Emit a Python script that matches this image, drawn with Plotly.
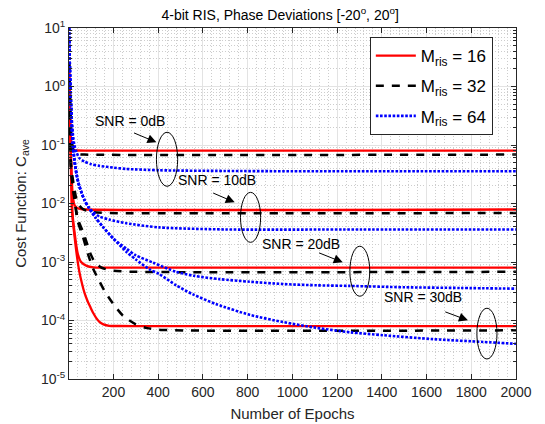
import plotly.graph_objects as go

# ---- data: average cost vs. training epoch -------------------------------
snr_labels = ["SNR = 0dB", "SNR = 10dB", "SNR = 20dB", "SNR = 30dB"]
legend_names = ["M<sub>ris</sub> = 16", "M<sub>ris</sub> = 32", "M<sub>ris</sub> = 64"]

# M_ris = 16
ep_r0 = [1, 3, 5, 8, 12, 18, 25, 40, 80, 2000]
c_r0 = [1.9, 0.8, 0.38, 0.17, 0.105, 0.086, 0.082, 0.0805, 0.08, 0.08]
ep_r10 = [1, 3, 5, 8, 12, 17, 25, 35, 50, 80, 2000]
c_r10 = [1.9, 0.75, 0.3, 0.1, 0.035, 0.015, 0.0095, 0.0085, 0.0081, 0.0079, 0.0079]
ep_r20 = [1, 3, 5, 8, 12, 17, 25, 40, 55, 80, 110, 160, 2000]
c_r20 = [1.9, 0.75, 0.3, 0.1, 0.03, 0.0065, 0.0034, 0.0014, 0.001, 0.00086, 0.00081, 0.0008, 0.0008]
ep_r30 = [1, 3, 5, 8, 14, 25, 36, 47, 59, 70, 83, 97, 110, 124, 137, 155, 181, 227, 300, 2000]
c_r30 = [1.9, 0.75, 0.3, 0.1, 0.0077, 0.0029, 0.0013, 0.00069, 0.00043, 0.0003, 0.00022,
         0.000168, 0.000133, 0.000109, 0.000095, 0.000086, 0.000081, 0.0000805, 0.00008, 0.00008]

# M_ris = 32
ep_k0 = [1, 3, 5, 8, 12, 18, 25, 40, 70, 2000]
c_k0 = [2.5, 1.3, 0.7, 0.3, 0.14, 0.09, 0.075, 0.07, 0.0686, 0.0686]
ep_k10 = [1, 3, 5, 7, 10, 17, 25, 33, 45, 60, 80, 110, 160, 2000]
c_k10 = [2.5, 1.3, 0.6, 0.2, 0.045, 0.028, 0.018, 0.0125, 0.0095, 0.0082, 0.0075, 0.0071, 0.0069, 0.0069]
ep_k20 = [1, 3, 5, 7, 10, 17, 25, 40, 62, 85, 100, 120, 150, 200, 300, 2000]
c_k20 = [2.5, 1.3, 0.6, 0.2, 0.04, 0.022, 0.013, 0.0055, 0.0034, 0.0019, 0.0013, 0.00095,
         0.00079, 0.00071, 0.00068, 0.00068]
ep_k30 = [1, 3, 5, 7, 10, 17, 25, 40, 62, 85, 110, 137, 160, 200, 245, 300, 350, 420, 2000]
c_k30 = [2.5, 1.3, 0.6, 0.2, 0.04, 0.021, 0.012, 0.005, 0.0028, 0.0014, 0.00075, 0.00047,
         0.00032, 0.00019, 0.000118, 0.000086, 0.000074, 0.000069, 0.000068]

# M_ris = 64
ep_b0 = [1, 3, 5, 8, 12, 18, 25, 35, 47, 70, 100, 137, 200, 257, 405, 700, 1000, 2000]
c_b0 = [10, 4.5, 2, 0.8, 0.35, 0.16, 0.1, 0.075, 0.06, 0.052, 0.047, 0.044, 0.041, 0.039,
        0.037, 0.036, 0.0356, 0.0355]
ep_b10 = [1, 3, 5, 8, 12, 17, 25, 40, 55, 70, 90, 107, 137, 182, 257, 405, 700, 1300, 2000]
c_b10 = [10, 4.5, 2, 0.8, 0.3, 0.11, 0.058, 0.025, 0.016, 0.0115, 0.0085, 0.0072, 0.006,
         0.0053, 0.0046, 0.0039, 0.0036, 0.0036, 0.0036]
ep_b20 = [1, 3, 5, 8, 12, 17, 25, 35, 47, 70, 92, 120, 152, 200, 257, 300, 376, 480, 560,
          674, 809, 958, 1107, 1257, 1500, 1750, 2000]
c_b20 = [10, 4.5, 2, 0.8, 0.3, 0.11, 0.055, 0.031, 0.02, 0.0115, 0.0082, 0.0057, 0.004,
         0.0025, 0.0017, 0.0013, 0.00098, 0.00068, 0.00058, 0.00051, 0.00046, 0.00042,
         0.0004, 0.00039, 0.00037, 0.00036, 0.00035]
ep_b30 = [1, 3, 5, 8, 12, 17, 25, 35, 47, 70, 92, 120, 152, 200, 257, 300, 361, 405, 480,
          555, 660, 809, 958, 1107, 1257, 1406, 1630, 1853, 2000]
c_b30 = [10, 4.5, 2, 0.8, 0.3, 0.11, 0.055, 0.031, 0.02, 0.0115, 0.0082, 0.0057, 0.004,
         0.0025, 0.0015, 0.0011, 0.00075, 0.00062, 0.0004, 0.00028, 0.00019, 0.000125,
         0.000094, 0.000075, 0.000063, 0.000056, 0.000048, 0.000043, 0.00004]

x_ticks = [200, 400, 600, 800, 1000, 1200, 1400, 1600, 1800, 2000]
y_exponents = [-5, -4, -3, -2, -1, 0, 1]

# annotation anchors (epoch, log10 cost)
label_pos = [(274, -0.59), (663, -1.603), (1037, -2.697), (1583, -3.603)]
arrow_tail = [(285, -0.783), (639, -1.81), (1113, -2.834), (1677, -3.843)]
arrow_head = [(392, -0.954), (742, -1.98), (1225, -3.006), (1785, -3.997)]
ellipse_box = [(392, 487, 0.165, 0.0197), (768, 858, 0.0155, 0.00217),
               (1257, 1346, 0.00186, 0.00026), (1825, 1915, 0.000162, 0.000022)]

# ---- styling ---------------------------------------------------------------
FONT = "Liberation Sans, Arial, sans-serif"
AXC = "#262626"
styles = [
    dict(color="#ff0000", width=2.3, dash="solid"),
    dict(color="#000000", width=2.5, dash="8px,8px"),
    dict(color="#0000ff", width=2.6, dash="2.6px,1.6px"),
]
groups = [
    [(ep_r0, c_r0), (ep_r10, c_r10), (ep_r20, c_r20), (ep_r30, c_r30)],
    [(ep_k0, c_k0), (ep_k10, c_k10), (ep_k20, c_k20), (ep_k30, c_k30)],
    [(ep_b0, c_b0), (ep_b10, c_b10), (ep_b20, c_b20), (ep_b30, c_b30)],
]

fig = go.Figure()
for gi, series in enumerate(groups):
    for si, (ep, cost) in enumerate(series):
        fig.add_trace(go.Scatter(
            x=ep, y=cost, mode="lines",
            line=dict(shape="spline", smoothing=0.7, **styles[gi]),
            name=legend_names[gi], legendgroup=str(gi), showlegend=(si == 0),
        ))

annotations = []
shapes = []
for i, txt in enumerate(snr_labels):
    annotations.append(dict(x=label_pos[i][0], y=label_pos[i][1], xref="x", yref="y",
                            text=txt, showarrow=False,
                            font=dict(family=FONT, size=14, color="#000000")))
    annotations.append(dict(x=arrow_head[i][0], y=arrow_head[i][1], xref="x", yref="y",
                            ax=arrow_tail[i][0], ay=arrow_tail[i][1], axref="x", ayref="y",
                            text="", showarrow=True, arrowhead=2, arrowsize=1.8,
                            arrowwidth=1, arrowcolor="#000000"))
    x0, x1, y0, y1 = ellipse_box[i]
    shapes.append(dict(type="circle", xref="x", yref="y", x0=x0, x1=x1, y0=y0, y1=y1,
                       line=dict(color="#000000", width=1)))

y_minor = [m * 10.0 ** e for e in y_exponents[:-1] for m in range(2, 10)]

fig.update_layout(
    width=545, height=424,
    margin=dict(l=69, r=29, t=28, b=45, autoexpand=False),
    paper_bgcolor="white", plot_bgcolor="white",
    font=dict(family=FONT, size=14, color=AXC),
    title=dict(text="4-bit RIS, Phase Deviations [-20<sup>o</sup>, 20<sup>o</sup>]",
               x=0.514, xanchor="center", y=0.965, yanchor="middle",
               font=dict(family=FONT, size=14, color="#000000")),
    showlegend=True,
    legend=dict(x=0.673, y=0.974, xanchor="left", yanchor="top",
                bgcolor="white", bordercolor=AXC, borderwidth=1,
                font=dict(family=FONT, size=17, color="#000000"),
                tracegroupgap=5, itemwidth=40, traceorder="grouped"),
    annotations=annotations,
    shapes=shapes,
    xaxis=dict(
        range=[1, 2000], tickvals=x_ticks, ticktext=[str(v) for v in x_ticks],
        automargin=False,
        showline=True, linecolor=AXC, linewidth=1, mirror="allticks",
        ticks="inside", ticklen=5, tickcolor=AXC,
        showgrid=True, gridcolor="#e3e3e3", gridwidth=1, zeroline=False,
        minor=dict(dtick=40, tick0=0, showgrid=True, gridcolor="#cdcdcd",
                   griddash="1px,2px", ticks=""),
        title=dict(text="Number of Epochs", standoff=9,
                   font=dict(family=FONT, size=15, color=AXC)),
        tickfont=dict(family=FONT, size=14, color=AXC),
    ),
    yaxis=dict(
        type="log", range=[-5, 1],
        tickvals=[10.0 ** e for e in y_exponents],
        ticktext=["10<sup>%d</sup>" % e for e in y_exponents],
        automargin=False,
        showline=True, linecolor=AXC, linewidth=1, mirror="allticks",
        ticks="inside", ticklen=5, tickcolor=AXC,
        showgrid=True, gridcolor="#e3e3e3", gridwidth=1, zeroline=False,
        minor=dict(tickvals=y_minor, showgrid=True, gridcolor="#cdcdcd",
                   griddash="1px,2px", ticks="inside", ticklen=3, tickcolor=AXC),
        title=dict(text="Cost Function: C<sub>ave</sub>", standoff=10,
                   font=dict(family=FONT, size=15, color=AXC)),
        tickfont=dict(family=FONT, size=14, color=AXC),
    ),
)

fig.write_html("out.html")
